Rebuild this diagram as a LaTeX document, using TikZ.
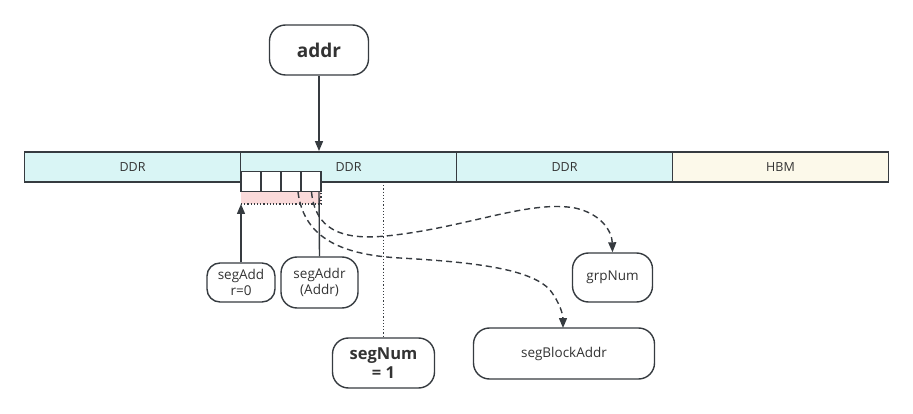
\documentclass[tikz,border=0pt]{standalone}
\usepackage{fontspec}
\setmainfont{Open Sans}
\usetikzlibrary{arrows.meta}
\definecolor{ln}{HTML}{363B40}
\definecolor{ddrfill}{HTML}{D9F5F5}
\definecolor{hbmfill}{HTML}{FCF9EA}
\definecolor{pinkfill}{HTML}{FADADA}
\definecolor{txt}{HTML}{333333}
\tikzset{
  seg/.style={draw=ln, line width=1.8pt, minimum width=216pt, minimum height=30pt, inner sep=0pt, text=txt, font=\fontsize{12.5}{14}\selectfont},
  cell/.style={draw=ln, line width=1.5pt, fill=white, minimum width=20pt, minimum height=20pt, inner sep=0pt},
  rnode/.style={draw=ln, line width=1.4pt, rounded corners=16pt, fill=white, align=center, inner sep=0pt, text=txt, font=\fontsize{13.5}{16}\selectfont},
  conn/.style={draw=ln, line width=1.4pt},
  tip/.style={-{Triangle[length=10pt,width=8pt]}},
  dconn/.style={conn, dash pattern=on 6pt off 4pt},
}
\begin{document}
\begin{tikzpicture}[x=1pt,y=-1pt]
\useasboundingbox (0,0) rectangle (913,414);
% memory bar
\node[seg, fill=ddrfill] (d1) at (132.5,167) {DDR};
\node[seg, fill=ddrfill] (d2) at (348.5,167) {DDR};
\node[seg, fill=ddrfill] (d3) at (564.5,167) {DDR};
\node[seg, fill=hbmfill] (h1) at (780.5,167) {HBM};
% pink region
\fill[pinkfill] (241,191.7) rectangle (321,204);
\draw[ln, line width=1.2pt, dotted] (241,204) -- (321,204) -- (321,191.7);
% cells
\node[cell] (c1) at (251,181.7) {};
\node[cell] (c2) at (271,181.7) {};
\node[cell] (c3) at (291,181.7) {};
\node[cell] (c4) at (311,181.7) {};
% nodes
\node[rnode, minimum width=99pt, minimum height=50pt, font=\fontsize{19}{21}\selectfont\bfseries] (addr) at (319,50) {addr};
\node[rnode, minimum width=68pt, minimum height=39pt, rounded corners=13pt] (sa0) at (241,282.5) {segAdd\\r=0};
\node[rnode, minimum width=77pt, minimum height=51pt] (sa) at (319.5,282.5) {segAddr\\(Addr)};
\node[rnode, minimum width=102pt, minimum height=50pt, font=\fontsize{16.5}{19}\selectfont\bfseries] (sn) at (383.5,363) {segNum\\= 1};
\node[rnode, minimum width=80pt, minimum height=49pt] (gn) at (612.5,277.5) {grpNum};
\node[rnode, minimum width=181pt, minimum height=51pt] (sb) at (564,353.5) {segBlockAddr};
% coordinates on the bar
\coordinate (pinkb) at (241,204);
\coordinate (saTop) at (319,192);
\coordinate (dotTop) at (383.5,182);
\coordinate (aStart) at (311.5,192);
\coordinate (bStart) at (298,192);
\coordinate (bEnd) at (563,328);
% connectors
\draw[conn, tip] (addr.south) -- (addr.south |- d2.north);
\draw[conn, tip] (sa0.north) -- (pinkb);
\draw[conn] (sa.north) -- (saTop);
\draw[ln, line width=1.2pt, dotted] (dotTop) -- (sn.north);
\draw[dconn, tip] (aStart) .. controls (316,238) and (355,240) .. (395,235)
  .. controls (470,226) and (530,200) .. (575,208)
  .. controls (602,214) and (612,232) .. (gn.north);
\draw[dconn, tip] (bStart) .. controls (304,240) and (345,255) .. (400,258)
  .. controls (470,262) and (530,268) .. (550,290)
  .. controls (560,303) and (563,315) .. (bEnd);
\end{tikzpicture}
\end{document}
